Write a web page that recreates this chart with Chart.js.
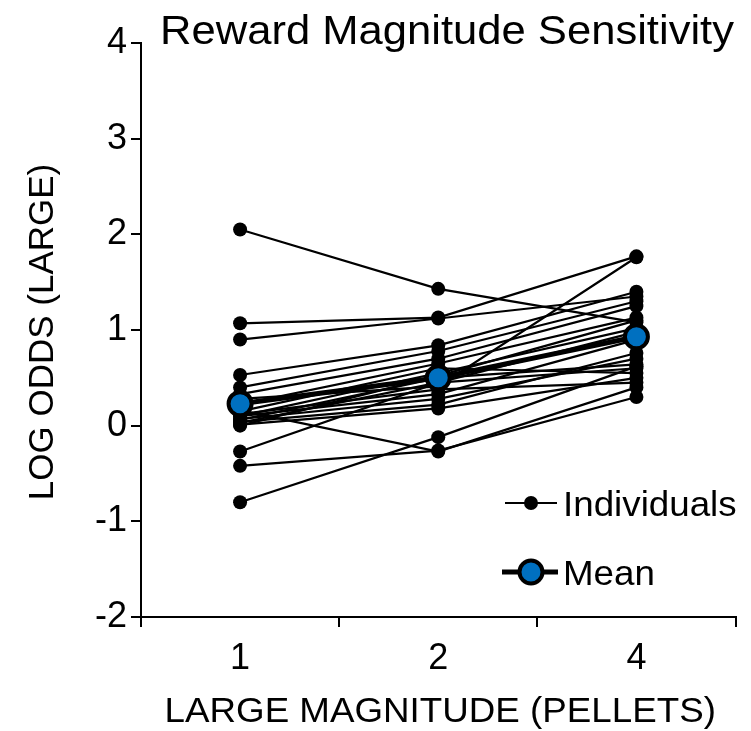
<!DOCTYPE html>
<html><head><meta charset="utf-8">
<script src="https://cdn.jsdelivr.net/npm/chart.js@4.4.0/dist/chart.umd.min.js"></script>
<style>html,body{margin:0;padding:0;background:#fff;} #wrap{position:relative;width:751px;height:731px;}</style>
</head><body><div id="wrap"><canvas id="c" width="751" height="731"></canvas></div>
<script>
const categories = ['1', '2', '4'];
const individualSeries = [
  [2.05, 1.43, 1.08],
  [1.07, 1.13, 1.77],
  [0.90, 1.12, 1.35],
  [0.53, 0.84, 1.40],
  [0.40, 0.78, 1.30],
  [0.33, 0.70, 1.25],
  [0.28, 0.41, 1.76],
  [0.22, 0.65, 1.13],
  [0.15, 0.60, 0.55],
  [0.10, 0.55, 1.02],
  [0.06, 0.50, 0.64],
  [0.03, 0.45, 0.98],
  [0.12, 0.38, 0.45],
  [0.10, 0.33, 0.90],
  [0.07, 0.28, 0.70],
  [0.04, 0.22, 0.76],
  [0.01, 0.18, 0.50],
  [0.16, -0.27, 0.40],
  [-0.27, 0.45, 0.60],
  [-0.42, -0.26, 0.30],
  [-0.80, -0.12, 0.62],
  [0.00, 0.52, 1.10]
];
const meanValues = [0.23, 0.50, 0.93];
const yMin = -2, yMax = 4, yStep = 1;
const chartTitle = 'Reward Magnitude Sensitivity';
const xAxisTitle = 'LARGE MAGNITUDE (PELLETS)';
const yAxisTitle = 'LOG ODDS (LARGE)';
const legendLabels = ['Individuals', 'Mean'];

const FONT = "'Liberation Sans', Arial, sans-serif";
const MEAN_BLUE = '#0070C0';
const SX = 1.05;

const datasets = [{
  label: legendLabels[1],
  data: meanValues,
  order: 0,
  borderColor: '#000',
  borderWidth: 5,
  pointRadius: 11.5,
  pointBackgroundColor: MEAN_BLUE,
  pointBorderColor: '#000',
  pointBorderWidth: 4,
  tension: 0
}];
individualSeries.forEach((vals) => {
  datasets.push({
    label: legendLabels[0],
    data: vals,
    order: 1,
    borderColor: '#000',
    borderWidth: 2.2,
    pointRadius: 7,
    pointBackgroundColor: '#000',
    pointBorderWidth: 0,
    tension: 0
  });
});

function stretchedText(ctx, text, x, y, size, align, sx) {
  ctx.save();
  ctx.font = size + 'px ' + FONT;
  ctx.fillStyle = '#000';
  ctx.textBaseline = 'alphabetic';
  const w = ctx.measureText(text).width * sx;
  let left = x;
  if (align === 'center') left = x - w / 2;
  ctx.translate(left, y);
  ctx.scale(sx, 1);
  ctx.textAlign = 'left';
  ctx.fillText(text, 0, 0);
  ctx.restore();
}

const decorPlugin = {
  id: 'decor',
  afterDraw(chart) {
    const ctx = chart.ctx;
    const ca = chart.chartArea;
    stretchedText(ctx, chartTitle, 447, 44, 41.5, 'center', SX);
    stretchedText(ctx, xAxisTitle, (ca.left + ca.right) / 2 + 2, 722, 35, 'center', SX);
    ctx.save();
    ctx.translate(53, (ca.top + ca.bottom) / 2 + 2);
    ctx.rotate(-Math.PI / 2);
    ctx.font = '35px ' + FONT;
    ctx.fillStyle = '#000';
    ctx.textAlign = 'center';
    ctx.textBaseline = 'alphabetic';
    ctx.fillText(yAxisTitle, 0, 0);
    ctx.restore();
    ctx.save();
    ctx.strokeStyle = '#000';
    ctx.lineWidth = 2.2;
    ctx.beginPath(); ctx.moveTo(505, 503); ctx.lineTo(557, 503); ctx.stroke();
    ctx.fillStyle = '#000';
    ctx.beginPath(); ctx.arc(531, 503, 7, 0, Math.PI * 2); ctx.fill();
    ctx.lineWidth = 5;
    ctx.beginPath(); ctx.moveTo(502, 572); ctx.lineTo(558, 572); ctx.stroke();
    ctx.beginPath(); ctx.arc(531, 572, 11.5, 0, Math.PI * 2);
    ctx.fillStyle = MEAN_BLUE; ctx.fill();
    ctx.lineWidth = 4; ctx.strokeStyle = '#000'; ctx.stroke();
    ctx.restore();
    stretchedText(ctx, legendLabels[0], 563, 516, 35, 'left', SX);
    stretchedText(ctx, legendLabels[1], 563, 585, 35, 'left', SX);
  }
};

new Chart(document.getElementById('c'), {
  type: 'line',
  data: { labels: categories, datasets },
  options: {
    responsive: false,
    animation: false,
    devicePixelRatio: 1,
    layout: { padding: { top: 43, right: 11, left: 0, bottom: 0 } },
    plugins: { legend: { display: false }, tooltip: { enabled: false }, title: { display: false } },
    scales: {
      x: {
        type: 'category',
        offset: true,
        grid: { offset: true, drawOnChartArea: false, drawTicks: true, tickLength: 10, color: '#000', lineWidth: 2 },
        border: { display: true, color: '#000', width: 2 },
        ticks: { color: '#000', font: { family: FONT, size: 36 }, padding: 10, maxRotation: 0 },
        afterFit(scale) { scale.height = 114; }
      },
      y: {
        min: yMin, max: yMax,
        grid: { drawOnChartArea: false, drawTicks: true, tickLength: 10, color: '#000', lineWidth: 2 },
        border: { display: true, color: '#000', width: 2 },
        ticks: { stepSize: yStep, color: '#000', font: { family: FONT, size: 36 }, padding: 4 },
        afterFit(scale) { scale.width = 141; }
      }
    }
  },
  plugins: [decorPlugin]
});
</script>
</body></html>
